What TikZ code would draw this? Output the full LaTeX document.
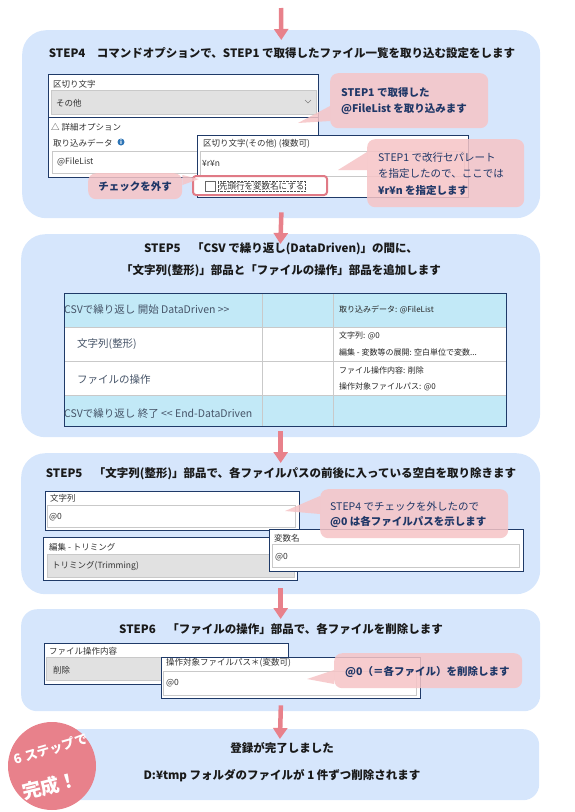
\documentclass[tikz,border=0pt]{standalone}
\usepackage{fontspec}
\setmainfont{Noto Sans CJK JP}
\usetikzlibrary{positioning,arrows.meta,calc}
\definecolor{panelblue}{HTML}{D6E6FC}
\definecolor{arrowred}{HTML}{E8818B}
\definecolor{calloutpink}{HTML}{F6C4C6}
\definecolor{callnavy}{HTML}{1F3767}
\definecolor{navy}{HTML}{1F3A68}
\definecolor{fieldgray}{HTML}{C9C9C9}
\definecolor{dropgray}{HTML}{E1E1E1}
\definecolor{cyanrow}{HTML}{C2E9F7}
\definecolor{rowtext}{HTML}{465468}
\definecolor{infoblue}{HTML}{2E75B6}
\definecolor{markred}{HTML}{E07A86}

\begin{document}
\begin{tikzpicture}[x=1pt,y=-1pt,
    panel/.style={fill=panelblue,anchor=north west,inner sep=0,rounded corners=24pt},
    flow/.style={draw=arrowred,line width=4.5pt,-{Triangle[width=14pt,length=11pt]},shorten <=-6pt,shorten >=-10pt},
    title/.style={font=\bfseries\fontsize{11.5}{22}\selectfont,text=black!90,align=center},
    uibox/.style={draw=navy,line width=1pt,fill=white},
    field/.style={draw=fieldgray,fill=white},
    dropdown/.style={draw=fieldgray,fill=dropgray},
    ui/.style={anchor=west,inner sep=0,text=black!80,font=\fontsize{8.5}{10}\selectfont},
    rowlabel/.style={anchor=west,inner sep=0,text=rowtext,font=\fontsize{10.5}{12}\selectfont},
    rowinfo/.style={anchor=west,inner sep=0,text=black!85,font=\fontsize{8}{16.5}\selectfont,align=left},
    callout/.style={fill=calloutpink,fill opacity=0.85,anchor=north west,inner sep=0,rounded corners=8pt},
    calltext/.style={anchor=west,inner sep=0,align=left,text=callnavy,font=\bfseries\fontsize{10.5}{16}\selectfont}]
    \useasboundingbox (0,0) rectangle (574,812);

    \node[panel,minimum width=518pt,minimum height=188pt] (step4) at (22,30) {};
    \node[panel,minimum width=519pt,minimum height=203pt] (step5a) at (21,234) {};
    \node[panel,minimum width=519pt,minimum height=141pt] (step5b) at (21,453) {};
    \node[panel,minimum width=519pt,minimum height=102pt,rounded corners=16pt] (step6) at (21,609) {};
    \node[panel,minimum width=518pt,minimum height=71pt,rounded corners=16pt] (done) at (21,729) {};

    \coordinate (start) at (281,8);
    \draw[flow,shorten <=0pt] (start) -- (step4.north);
    \draw[flow] (step4.south) -- (step5a.north);
    \draw[flow] (step5a.south) -- (step5b.north);
    \draw[flow] (step5b.south) -- (step6.north);
    \draw[flow] (step6.south) -- (done.north);

    \node[title] (title4) at (282,53) {STEP4　コマンドオプションで、STEP1 で取得したファイル一覧を取り込む設定をします};

    \draw[uibox] (48,74) rectangle (318,177);
    \draw[navy,line width=1pt] (48,117) -- (318,117);
    \node[ui] (sepl) at (53,84) {区切り文字};
    \draw[dropdown] (51,90) rectangle (316,114);
    \node[ui] (sepv) at (56,103) {その他};
    \draw[black!50] (305,100) -- (308,103) -- (311,100);
    \node[ui] (detail) at (51,127) {△ 詳細オプション};
    \node[ui] (datal) at (53,143) {取り込みデータ};
    \node[circle,fill=infoblue,minimum size=7pt,inner sep=0,text=white,font=\bfseries\fontsize{6}{6}\selectfont] (info) at (121,142) {i};
    \draw[field] (52,151) rectangle (316,173);
    \node[ui] (datav) at (57,162) {@FileList};

    \draw[uibox] (197,135) rectangle (468,197);
    \node[ui] (sepol) at (203,144) {区切り文字(その他) (複数可)};
    \draw[field] (200,151) rectangle (464,176);
    \node[ui] (sepov) at (202,163) {¥r¥n};
    \draw[markred,line width=2pt,fill=white,rounded corners=3pt] (193,176) rectangle (327,195);
    \draw[black!60] (205,181) rectangle (215,191);
    \node[ui,draw=black!70,densely dotted,inner sep=1pt] (headrow) at (218,186) {先頭行を変数名にする};

    \node[callout,minimum width=158pt,minimum height=55pt] (c1) at (330,73) {};
    \coordinate (c1tip) at (298,123);
    \fill[calloutpink,fill opacity=0.85] (c1tip) -- ($(c1.north west)+(0,33)$) -- ($(c1.north west)+(0,48)$) -- cycle;
    \node[calltext] (c1text) at (341,101) {STEP1 で取得した\\@FileList を取り込みます};

    \node[callout,minimum width=157pt,minimum height=68pt] (c2) at (367,139) {};
    \coordinate (c2tip) at (338,170);
    \fill[calloutpink,fill opacity=0.85] (c2tip) -- ($(c2.north west)+(0,13)$) -- ($(c2.north west)+(0,31)$) -- cycle;
    \node[calltext,font=\fontsize{10.5}{16.5}\selectfont] (c2text) at (378,174) {STEP1 で改行セパレート\\を指定したので、ここでは\\\textbf{¥r¥n を指定します}};

    \node[callout,minimum width=94pt,minimum height=26pt] (c3) at (88,173) {};
    \coordinate (c3tip) at (199,179);
    \fill[calloutpink,fill opacity=0.85] (c3tip) -- ($(c3.north east)+(0,2)$) -- ($(c3.north east)+(0,12)$) -- cycle;
    \node[calltext,anchor=center] (c3text) at (c3.center) {チェックを外す};

    \node[title] (title5a) at (281,260) {STEP5　「CSV で繰り返し(DataDriven)」の間に、\\「文字列(整形)」部品と「ファイルの操作」部品を追加します};

    \fill[cyanrow] (64,293) rectangle (506,327);
    \fill[white] (64,327) rectangle (506,395);
    \fill[cyanrow] (64,395) rectangle (506,426);
    \foreach \y in {327,361,395}
      \draw[fieldgray] (64,\y) -- (506,\y);
    \draw[fieldgray] (262,293) -- (262,426) (333,293) -- (333,426);
    \draw[navy,line width=1pt] (64,293) rectangle (506,426);
    \node[rowlabel] (loopstart) at (64,310) {CSVで繰り返し 開始 DataDriven {>}{>}};
    \node[rowinfo] (loopinfo) at (339,310) {取り込みデータ: @FileList};
    \node[rowlabel] (strfmt) at (77,344) {文字列(整形)};
    \node[rowinfo] (strinfo) at (339,344) {文字列: @0\\編集 - 変数等の展開: 空白単位で変数...};
    \node[rowlabel] (fileop) at (77,380) {ファイルの操作};
    \node[rowinfo] (fileinfo) at (339,379) {ファイル操作内容: 削除\\操作対象ファイルパス: @0};
    \node[rowlabel] (loopend) at (64,414) {CSVで繰り返し 終了 {<}{<} End-DataDriven};

    \node[title] (title5b) at (281,474) {STEP5　「文字列(整形)」部品で、各ファイルパスの前後に入っている空白を取り除きます};

    \draw[uibox] (45,491) rectangle (299,530);
    \node[ui] (strl) at (50,498) {文字列};
    \draw[field] (47,505) rectangle (295,527);
    \node[ui] (strv) at (49,517) {@0};
    \draw[uibox] (43,537) rectangle (297,580);
    \node[ui] (editl) at (49,547) {編集 - トリミング};
    \draw[dropdown] (47,554) rectangle (294,577);
    \node[ui] (editv) at (52,566) {トリミング(Trimming)};
    \draw[uibox] (269,529) rectangle (523,571);
    \node[ui] (varl) at (274,538) {変数名};
    \draw[field] (272,544) rectangle (519,567);
    \node[ui] (varv) at (275,557) {@0};

    \node[callout,minimum width=188pt,minimum height=49pt] (c4) at (320,489) {};
    \coordinate (c4tip) at (285,511);
    \fill[calloutpink,fill opacity=0.85] (c4tip) -- ($(c4.north west)+(0,7)$) -- ($(c4.north west)+(0,25)$) -- cycle;
    \node[calltext,font=\fontsize{10.5}{15}\selectfont] (c4text) at (330,515) {STEP4 でチェックを外したので\\\textbf{@0 は各ファイルパスを示します}};

    \node[title] (title6) at (281,629) {STEP6　「ファイルの操作」部品で、各ファイルを削除します};

    \draw[uibox] (44,643) rectangle (288,684);
    \node[ui] (opl) at (49,651) {ファイル操作内容};
    \draw[dropdown] (46,657) rectangle (286,680);
    \node[ui] (opv) at (53,670) {削除};
    \draw[uibox] (161,657) rectangle (420,698);
    \node[ui] (pathl) at (166,663) {操作対象ファイルパス＊(変数可)};
    \draw[field] (163,671) rectangle (416,695);
    \node[ui] (pathv) at (166,683) {@0};

    \node[callout,minimum width=188pt,minimum height=35pt] (c5) at (334,653) {};
    \coordinate (c5tip) at (307,679);
    \fill[calloutpink,fill opacity=0.85] (c5tip) -- ($(c5.north west)+(0,17)$) -- ($(c5.north west)+(0,31)$) -- cycle;
    \node[calltext] (c5text) at (345,672) {@0（＝各ファイル）を削除します};

    \node[title] (donea) at (282,748) {登録が完了しました};
    \node[title] (doneb) at (282,776) {D:¥tmp フォルダのファイルが 1 件ずつ削除されます};

    \node[circle,fill=arrowred,minimum size=88pt,inner sep=0] (badge) at (52,766) {};
    \node[rotate=16,inner sep=0,text=white,font=\bfseries\fontsize{13}{14}\selectfont] (badgetop) at (51,749) {6 ステップで};
    \node[rotate=14,inner sep=0,text=white,font=\bfseries\fontsize{19}{20}\selectfont] (badgebot) at (50,786) {完成！};
\end{tikzpicture}
\end{document}
